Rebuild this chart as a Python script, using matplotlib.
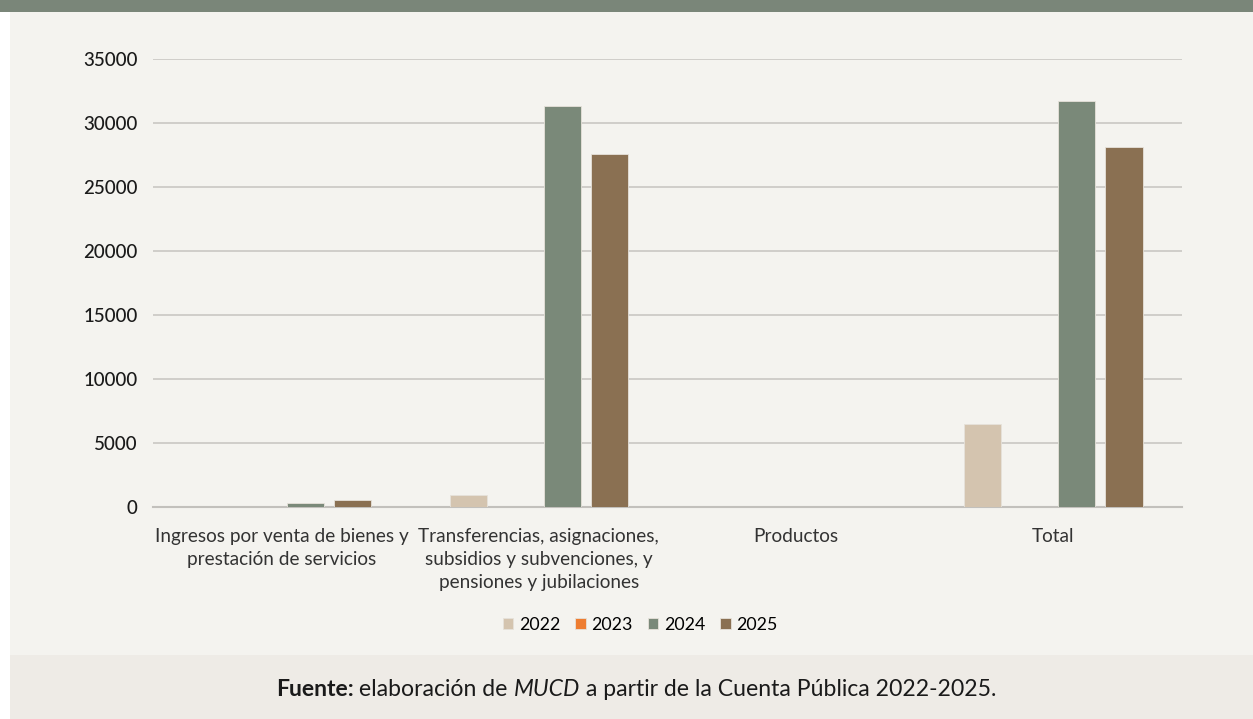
import matplotlib
matplotlib.use("Agg")
import matplotlib.pyplot as plt
import numpy as np
from matplotlib.patches import Rectangle

categorias = ["Ingresos por venta de bienes y\nprestación de servicios",
              "Transferencias, asignaciones,\nsubsidios y subvenciones, y\npensiones y jubilaciones",
              "Productos",
              "Total"]
anios = ["2022", "2023", "2024", "2025"]
v2022 = [20, 975, 25, 6470]
v2023 = [0, 0, 0, 0]
v2024 = [300, 31360, 0, 31680]
v2025 = [560, 27580, 0, 28130]
colores = ["#D4C4AF", "#EE7D31", "#7A8979", "#8A7052"]

fondo = "#F4F3EF"
plt.rcParams['font.family'] = ['Lato', 'DejaVu Sans']

fig = plt.figure(figsize=(12.53, 7.19), dpi=100)
fig.patch.set_facecolor("white")

# marcos de fondo
fig.patches.append(Rectangle((10/1253, 0), 1, 1, transform=fig.transFigure,
                             facecolor=fondo, edgecolor="none", zorder=-3))
fig.patches.append(Rectangle((0, 1-12/719), 1, 12/719, transform=fig.transFigure,
                             facecolor="#7A8679", edgecolor="none", zorder=-2))
fig.patches.append(Rectangle((10/1253, 0), 1, 64/719, transform=fig.transFigure,
                             facecolor="#EEEBE6", edgecolor="none", zorder=-2))

ax = fig.add_axes([153/1253, 1-507/719, 1029/1253, 448/719])
ax.set_facecolor(fondo)

x = np.arange(len(categorias))
ancho = 0.144
paso = 0.183
series = [v2022, v2023, v2024, v2025]
for i, (vals, c) in enumerate(zip(series, colores)):
    ax.bar(x + (i - 1.5) * paso, vals, ancho, color=c, label=anios[i],
           edgecolor="#E6E2DA", linewidth=0.6, zorder=3)

ax.set_xlim(-0.5, 3.5)
ax.set_ylim(0, 35000)
ax.set_yticks(np.arange(0, 35001, 5000))
ax.set_yticklabels([str(v) for v in range(0, 35001, 5000)], fontsize=13.5,
                   fontweight="medium", color="#1a1a1a")
ax.set_xticks(x)
ax.set_xticklabels(categorias, fontsize=13.7, color="#333333", linespacing=1.42)
ax.tick_params(axis="both", length=0)
ax.tick_params(axis="y", pad=11)
ax.tick_params(axis="x", pad=15)
ax.grid(axis="y", color="#CFCDC9", linewidth=1.4, zorder=0)
for s in ["top", "right", "left"]:
    ax.spines[s].set_visible(False)
ax.spines["bottom"].set_color("#C2C0BC")
ax.spines["bottom"].set_linewidth(1.5)

ax.legend(loc="center", bbox_to_anchor=(640/1253, 1-625/719), bbox_transform=fig.transFigure,
          ncol=4, frameon=False, fontsize=12.8, handlelength=0.6, handleheight=0.6,
          handletextpad=0.3, columnspacing=0.85)

# pie de fuente
partes = [("Fuente:", "bold", "normal"), (" elaboración de ", "normal", "normal"),
          ("MUCD", "normal", "italic"), (" a partir de la Cuenta Pública 2022-2025.", "normal", "normal")]
textos = []
for t, w, st in partes:
    textos.append(fig.text(0, 1-689/719, t, fontsize=16.6, fontweight=w, fontstyle=st,
                           va="center", color="#1a1a1a"))
fig.canvas.draw()
r = fig.canvas.get_renderer()
anchos = [tt.get_window_extent(r).width for tt in textos]
xpos = 636 - sum(anchos) / 2
for tt, a in zip(textos, anchos):
    tt.set_x(xpos / 1253)
    xpos += a

fig.savefig("out.png", dpi=100, facecolor=fig.get_facecolor())
